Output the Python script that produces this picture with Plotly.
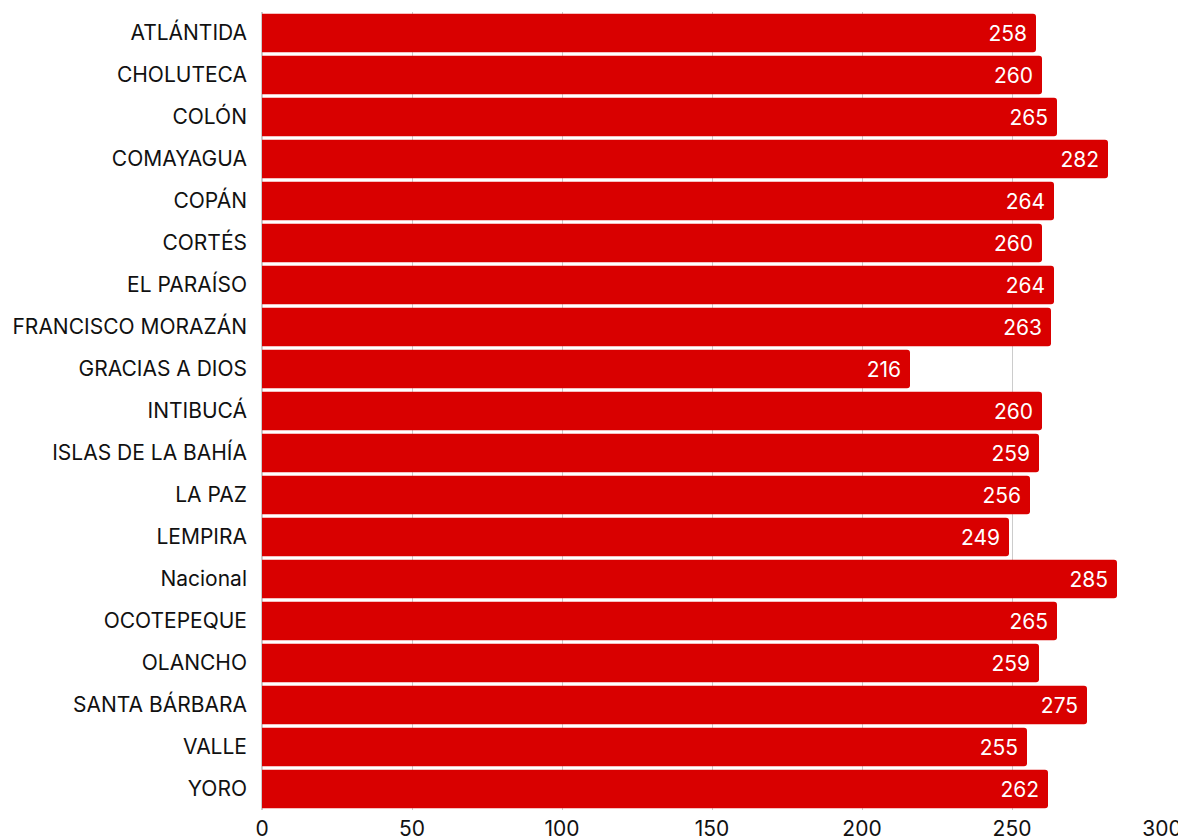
import plotly.graph_objects as go

categories = ["ATLÁNTIDA", "CHOLUTECA", "COLÓN", "COMAYAGUA", "COPÁN", "CORTÉS",
              "EL PARAÍSO", "FRANCISCO MORAZÁN", "GRACIAS A DIOS", "INTIBUCÁ",
              "ISLAS DE LA BAHÍA", "LA PAZ", "LEMPIRA", "Nacional", "OCOTEPEQUE",
              "OLANCHO", "SANTA BÁRBARA", "VALLE", "YORO"]
values = [258, 260, 265, 282, 264, 260, 264, 263, 216, 260, 259, 256, 249, 285,
          265, 259, 275, 255, 262]
x_ticks = [0, 50, 100, 150, 200, 250, 300]

fig = go.Figure(go.Bar(
    y=categories, x=values, orientation="h",
    marker=dict(color="#d90000", line=dict(width=0)),
    text=[str(v) + "\u00a0" for v in values], textposition="inside", insidetextanchor="end",
    textfont=dict(color="white", size=21, family="Inter"),
    cliponaxis=False,
))
fig.update_layout(
    width=1186, height=838,
    margin=dict(l=254, r=32, t=4, b=36, autoexpand=False),
    paper_bgcolor="white", plot_bgcolor="white",
    font=dict(family="Inter", size=21, color="#111"),
    bargap=0.08, barcornerradius=3, showlegend=False,
    uniformtext=dict(minsize=21, mode="show"),
)
fig.update_xaxes(range=[0, 300], tickvals=x_ticks, showgrid=True, gridcolor="#cccccc",
                 gridwidth=1, zeroline=True, zerolinecolor="#cccccc", showline=False,
                 automargin=False, ticklabelstandoff=4, tickfont=dict(size=21, color="#111"))
fig.update_yaxes(autorange="reversed", showgrid=False, ticklabelstandoff=14,
                 automargin=False, tickfont=dict(size=21, color="#111"))
fig.write_html("out.html")
